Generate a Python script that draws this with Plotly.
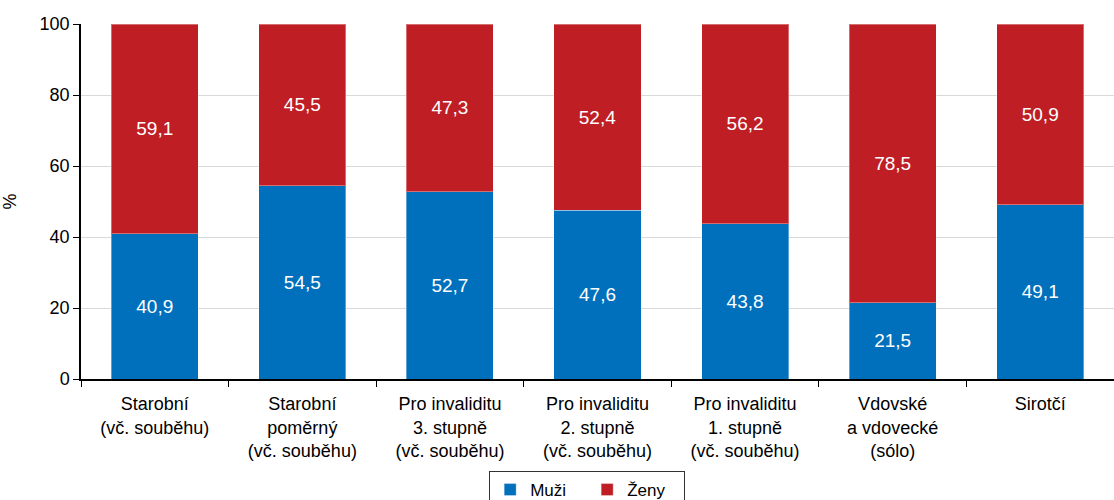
import plotly.graph_objects as go

categories = ["Starobní<br>(vč. souběhu)", "Starobní<br>poměrný<br>(vč. souběhu)",
              "Pro invaliditu<br>3. stupně<br>(vč. souběhu)", "Pro invaliditu<br>2. stupně<br>(vč. souběhu)",
              "Pro invaliditu<br>1. stupně<br>(vč. souběhu)", "Vdovské<br>a vdovecké<br>(sólo)", "Sirotčí"]
muzi = [40.9, 54.5, 52.7, 47.6, 43.8, 21.5, 49.1]
zeny = [59.1, 45.5, 47.3, 52.4, 56.2, 78.5, 50.9]
y_ticks = [0, 20, 40, 60, 80, 100]

def fmt(v):
    return f"{v:.1f}".replace(".", ",")

font = "Liberation Sans, Arial, sans-serif"
edge = "rgba(255,255,255,0.35)"
fig = go.Figure()
fig.add_trace(go.Bar(x=categories, y=muzi, name="Muži", marker=dict(color="#0070BD", line=dict(color=edge, width=1)),
                     text=[fmt(v) for v in muzi], textposition="inside", insidetextanchor="middle",
                     textfont=dict(color="white", size=19, family=font)))
fig.add_trace(go.Bar(x=categories, y=zeny, name="Ženy", marker=dict(color="#BE1E24", line=dict(color=edge, width=1)),
                     text=[fmt(v) for v in zeny], textposition="inside", insidetextanchor="middle",
                     textfont=dict(color="white", size=19, family=font)))
fig.update_layout(
    barmode="stack", bargap=0.41,
    width=1114, height=500,
    margin=dict(l=81, r=0, t=24, b=121),
    plot_bgcolor="white", paper_bgcolor="white",
    font=dict(family=font, size=18, color="black"),
    showlegend=True,
    legend=dict(orientation="h", x=0.49, xanchor="center", yref="container", y=0.058, yanchor="top",
                bordercolor="#333333", borderwidth=1, font=dict(size=17), traceorder="normal",
                entrywidth=52, tracegroupgap=0),
    uniformtext=dict(mode="show", minsize=10),
)
fig.update_xaxes(showline=True, linecolor="black", linewidth=1.5, ticks="outside", tickson="boundaries",
                 ticklen=6, tickcolor="black", tickfont=dict(size=18), showgrid=False, automargin=False,
                 ticklabelstandoff=8)
fig.update_yaxes(range=[0, 100], tickvals=y_ticks, showline=True, linecolor="black", linewidth=1.5,
                 ticks="outside", ticklen=6, tickcolor="black", showgrid=True, gridcolor="#D9D9D9",
                 gridwidth=1.2, tickfont=dict(size=18), automargin=False,
                 title=dict(text="%", font=dict(size=18), standoff=18))
fig.write_html("out.html", config={"displayModeBar": False},
               post_script="document.body.style.margin='0';document.body.style.padding='0';")
